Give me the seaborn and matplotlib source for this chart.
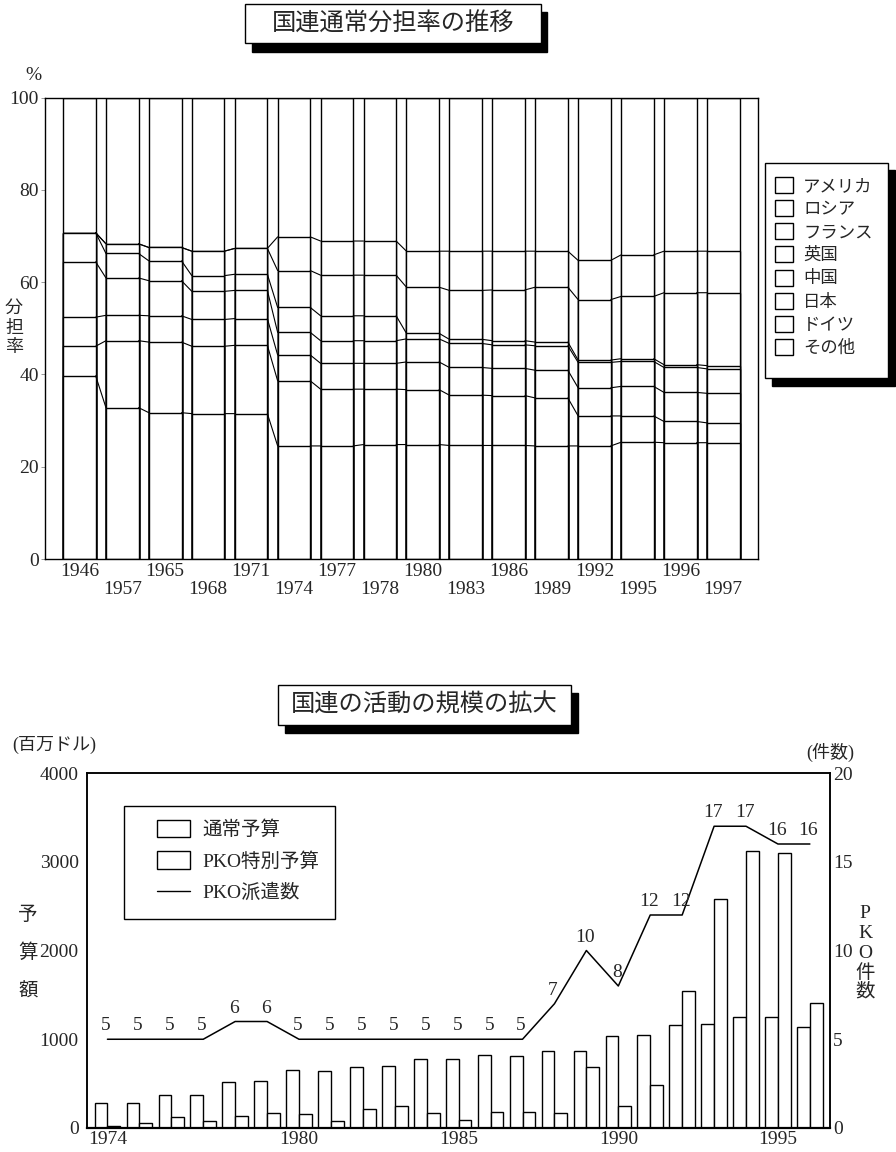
import numpy as np
import pandas as pd
import matplotlib
matplotlib.use("Agg")
import matplotlib.pyplot as plt
from matplotlib.patches import Rectangle, Patch
from matplotlib.lines import Line2D
import seaborn as sns

# ---------------- data: top chart (UN regular budget scale, %) ----------------
share_years = ["1946", "1957", "1965", "1968", "1971", "1974", "1977", "1978",
               "1980", "1983", "1986", "1989", "1992", "1995", "1996", "1997"]
countries = ["アメリカ", "ロシア", "フランス", "英国", "中国", "日本", "ドイツ", "その他"]
usa     = [39.7, 32.8, 31.7, 31.5, 31.5, 24.5, 24.5, 24.8, 24.8, 24.6, 24.6, 24.5, 24.5, 25.3, 25.2, 25.2]
russia  = [6.4, 14.5, 15.3, 14.6, 14.8, 14.1, 12.3, 12.0, 11.9, 10.9, 10.8, 10.4, 6.5, 5.7, 4.6, 4.3]
france  = [6.3, 5.5, 5.7, 5.8, 5.8, 5.6, 5.6, 5.6, 6.0, 6.0, 5.9, 6.0, 6.1, 6.4, 6.3, 6.4]
uk      = [12.0, 8.1, 7.6, 6.1, 6.1, 4.9, 4.9, 4.9, 5.0, 5.2, 5.1, 5.3, 5.5, 5.4, 5.4, 5.3]
china   = [6.3, 5.3, 4.3, 3.4, 3.5, 5.4, 5.4, 5.4, 1.2, 0.9, 0.9, 0.8, 0.5, 0.6, 0.6, 0.7]
japan   = [0.0, 2.1, 2.9, 5.3, 5.6, 8.0, 8.8, 8.8, 10.0, 10.6, 11.0, 11.9, 13.1, 13.5, 15.6, 15.8]
germany = [0.0, 0.0, 0.0, 0.0, 0.0, 7.3, 7.4, 7.4, 7.8, 8.5, 8.4, 7.8, 8.5, 9.0, 9.0, 9.0]

# ---------------- data: bottom chart ----------------
budget_years = [str(y) for y in range(1974, 1997)]
regular_budget = [277, 277, 371, 371, 514, 532, 652, 637, 686, 697, 776, 776,
                  825, 810, 870, 870, 1038, 1050, 1162, 1170, 1252, 1252, 1143]
pko_budget = [26, 56, 124, 75, 139, 169, 154, 75, 217, 247, 169, 94,
              184, 184, 169, 686, 247, 484, 1541, 2576, 3119, 3093, 1406]
pko_count = [5, 5, 5, 5, 6, 6, 5, 5, 5, 5, 5, 5, 5, 5, 7, 10, 8, 12, 12, 17, 17, 16, 16]
bottom_tick_years = ["1974", "1980", "1985", "1990", "1995"]
budget_kinds = ["通常予算", "PKO特別予算"]
line_label = "PKO派遣数"

# ---------------- style ----------------
sns.set_style("white")
plt.rcParams["font.family"] = ["Liberation Serif", "Noto Sans CJK JP"]
plt.rcParams["axes.unicode_minus"] = False

W, H = 896, 1152
fig = plt.figure(figsize=(W / 100, H / 100), dpi=100)
fig.patch.set_facecolor("white")


def fx(p):
    return p / W


def fy(p):
    return 1 - p / H


def box(l, t, r, b):
    return [fx(l), fy(b), (r - l) / W, (b - t) / H]


def fig_rect(l, t, r, b, face, edge, z, lw=1.0):
    rect = Rectangle((fx(l), fy(b)), (r - l) / W, (b - t) / H,
                     transform=fig.transFigure, facecolor=face, edgecolor=edge,
                     linewidth=lw, zorder=z)
    fig.add_artist(rect)


# ================= TOP CHART =================
shares = np.array([usa, russia, france, uk, china, japan, germany])
other = 100 - shares.sum(axis=0)
cum = np.cumsum(np.vstack([shares, other]), axis=0)

rows = []
for k, c in enumerate(countries):
    for i, y in enumerate(share_years):
        rows.append({"year": y, "country": c, "cum": cum[k, i]})
df1 = pd.DataFrame(rows)

ax1 = fig.add_axes(box(45, 97.5, 758, 559))
bar_w = 0.76
sns.barplot(data=df1, x="year", y="cum", hue="country", order=share_years,
            hue_order=countries[::-1], palette=["white"] * len(countries),
            dodge=False, width=bar_w, edgecolor="black", linewidth=1.0,
            saturation=1, errorbar=None, legend=False, ax=ax1)

# series lines connecting segment tops between neighbouring bars
half = bar_w / 2
for k in range(len(countries) - 1):
    xs, ys = [], []
    for i in range(len(share_years) - 1):
        xs += [i + half, i + 1 - half, np.nan]
        ys += [cum[k, i], cum[k, i + 1], np.nan]
    ax1.plot(xs, ys, color="black", lw=0.8)

ax1.set_xlim(-0.80, len(share_years) - 1 + 0.81)
ax1.set_ylim(0, 100)
ax1.set_yticks(range(0, 101, 20))
ax1.set_yticklabels([str(v) for v in range(0, 101, 20)], fontsize=14)
ax1.set_xticks(range(len(share_years)))
ax1.set_xticklabels([y if i % 2 == 0 else "\n" + y for i, y in enumerate(share_years)],
                    fontsize=14, linespacing=1.1)
ax1.tick_params(axis="x", length=0, pad=3)
ax1.tick_params(axis="y", length=3, width=0.6, color="#888888", pad=1.5, left=True)
ax1.set_xlabel("")
ax1.set_ylabel("")
for s in ax1.spines.values():
    s.set_visible(True)
    s.set_color("black")
    s.set_linewidth(1.0)

fig.text(fx(33), fy(76), "%", ha="center", va="center", fontsize=14)
for ch, yy in zip("分担率", [308, 328, 348]):
    fig.text(fx(14), fy(yy), ch, ha="center", va="center", fontsize=13)

# title 1
fig_rect(252, 12, 547, 52, "black", "black", 2)
fig_rect(245, 4, 541, 43, "white", "black", 3)
fig.text(fx(393), fy(24), "国連通常分担率の推移", ha="center", va="center",
         fontsize=17.5, zorder=4)

# legend 1
fig_rect(772, 170, 895, 386, "black", "black", 2)
fig_rect(765, 162.7, 888, 378, "white", "black", 3)
handles1 = [Patch(facecolor="white", edgecolor="black", linewidth=1.0) for _ in countries]
fig.legend(handles=handles1, labels=countries, loc="upper left",
           bbox_to_anchor=(fx(775), fy(177)), frameon=False, borderpad=0,
           borderaxespad=0, handlelength=1.02, handleheight=1.04,
           handletextpad=0.6, labelspacing=0.3, fontsize=12.5)

# ================= BOTTOM CHART =================
df2 = pd.DataFrame({
    "year": budget_years * 2,
    "kind": [budget_kinds[0]] * len(budget_years) + [budget_kinds[1]] * len(budget_years),
    "value": regular_budget + pko_budget,
})

axb = fig.add_axes(box(87, 773, 830, 1128))
sns.barplot(data=df2, x="year", y="value", hue="kind", order=budget_years,
            hue_order=budget_kinds, palette=["white", "white"], width=0.8,
            edgecolor="black", linewidth=1.0, saturation=1, errorbar=None,
            legend=False, ax=axb)
axb.set_ylim(0, 4000)
axb.set_yticks(range(0, 4001, 1000))
axb.set_yticklabels([str(v) for v in range(0, 4001, 1000)], fontsize=14)
axb.set_xticks([budget_years.index(y) for y in bottom_tick_years])
axb.set_xticklabels(bottom_tick_years, fontsize=14)
axb.tick_params(axis="both", length=0)
axb.tick_params(axis="y", pad=6)
axb.tick_params(axis="x", pad=2)
axb.set_xlabel("")
axb.set_ylabel("")

axt = axb.twinx()
xpos = np.arange(len(budget_years))
sns.lineplot(x=xpos, y=pko_count, color="black", lw=1.1, ax=axt)
for i, c in enumerate(pko_count):
    axt.annotate(str(c), (xpos[i], c), xytext=(-1, 3.5), textcoords="offset points",
                 ha="center", va="bottom", fontsize=14)
axt.set_ylim(0, 20)
axt.set_yticks(range(0, 21, 5))
axt.set_yticklabels([str(v) for v in range(0, 21, 5)], fontsize=14)
axt.tick_params(axis="y", length=0, pad=2)
axt.set_ylabel("")
axt.set_xlabel("")
axb.set_xlim(-0.64, len(budget_years) - 1 + 0.63)

for a in (axb, axt):
    for s in a.spines.values():
        s.set_visible(True)
        s.set_color("black")
        s.set_linewidth(1.1)
axb.spines["bottom"].set_linewidth(1.6)

fig.text(fx(12), fy(745), "(百万ドル)", ha="left", va="center", fontsize=13)
fig.text(fx(806), fy(752), "(件数)", ha="left", va="center", fontsize=13)
for ch, yy in zip("予算額", [915, 953, 992]):
    fig.text(fx(28), fy(yy), ch, ha="center", va="center", fontsize=14)
for ch, yy in zip("PKO件数", [913, 933, 953, 973, 992]):
    fig.text(fx(865), fy(yy), ch, ha="center", va="center", fontsize=14)

# title 2
fig_rect(285, 693, 578, 733, "black", "black", 2)
fig_rect(278, 685, 571, 725, "white", "black", 3)
fig.text(fx(424.5), fy(705), "国連の活動の規模の拡大", ha="center", va="center",
         fontsize=17.5, zorder=4)

# legend 2
fig_rect(124, 806, 335, 919, "white", "black", 3)
handles2 = [Patch(facecolor="white", edgecolor="black", linewidth=1.0),
            Patch(facecolor="white", edgecolor="black", linewidth=1.0),
            Line2D([], [], color="black", lw=1.0)]
fig.legend(handles=handles2, labels=budget_kinds + [line_label], loc="upper left",
           bbox_to_anchor=(fx(157), fy(820)), frameon=False, borderpad=0,
           borderaxespad=0, handlelength=1.7, handleheight=1.0,
           handletextpad=0.65, labelspacing=0.62, fontsize=14)

fig.savefig("out.png", dpi=100)
